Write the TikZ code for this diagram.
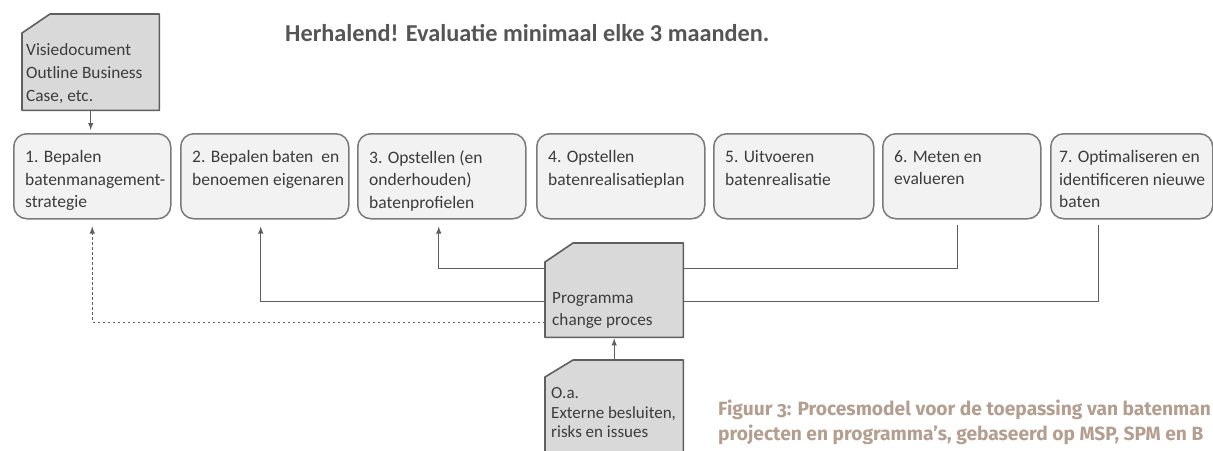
\documentclass[tikz,border=0pt]{standalone}
\usepackage{fontspec}
\setmainfont{Carlito}
\newfontfamily\capfont[Numbers=OldStyle]{Fira Sans}
\usepackage{xcolor}
\usetikzlibrary{arrows}

\definecolor{boxfill}{HTML}{F2F2F2}
\definecolor{boxline}{HTML}{7A7A7A}
\definecolor{docfill}{HTML}{D9D9D9}
\definecolor{docline}{HTML}{5F5F5F}
\definecolor{txtgray}{HTML}{3C3C3C}
\definecolor{titlegray}{HTML}{555555}
\definecolor{capbrown}{RGB}{180,158,143}

\begin{document}
\begin{tikzpicture}[x=1pt,y=-1pt,
  stepbox/.style={draw=boxline,fill=boxfill,line width=1.5pt,rounded corners=13pt,
    anchor=north west,inner sep=0pt,minimum height=85pt,minimum width=#1},
  steptext/.style={anchor=north west,inner sep=0pt,align=left,text=txtgray,
    font=\fontsize{17.5}{22.6}\selectfont,execute at begin node=\strut},
  docbox/.style={anchor=north west,inner sep=0pt,minimum width=138pt,minimum height=#1},
  docshape/.style={draw=docline,fill=docfill,line width=1.6pt,line join=round},
  doctext/.style={anchor=north west,inner sep=0pt,align=left,text=txtgray,
    font=\fontsize{17.3}{23.3}\selectfont,execute at begin node=\strut},
  conn/.style={draw=docline,line width=1.4pt,>=latex},
  dashconn/.style={conn,dash pattern=on 2.5pt off 2.5pt}]

\useasboundingbox (0,0) rectangle (1213,450);
\clip (0,0) rectangle (1213,450);

\node[font=\fontsize{24.3}{29}\selectfont\bfseries,text=titlegray,anchor=base west,inner sep=0pt]
  (title) at (285,41) {Herhalend! Evaluatie minimaal elke 3 maanden.};

% documenten
\node[docbox=96pt,minimum width=137pt] (visie) at (22,14) {};
\filldraw[docshape] (visie.south west) -- ([yshift=-19pt]visie.north west)
  -- ([xshift=28pt]visie.north west) -- (visie.north east) -- (visie.south east) -- cycle;
\node[doctext] (visietxt) at ([xshift=4pt,yshift=-29pt]visie.north west)
  {Visiedocument\\Outline Business\\Case, etc.};

\node[docbox=94pt] (change) at (545,243) {};
\filldraw[docshape] (change.south west) -- ([yshift=-19pt]change.north west)
  -- ([xshift=28pt]change.north west) -- (change.north east) -- (change.south east) -- cycle;
\node[doctext,font=\fontsize{17.2}{22}\selectfont] (changetxt)
  at ([xshift=7pt,yshift=-49pt]change.north west) {Programma\\change proces};

\node[docbox=105pt] (oa) at (545,360) {};
\filldraw[docshape] (oa.south west) -- ([yshift=-17pt]oa.north west)
  -- ([xshift=28pt]oa.north west) -- (oa.north east) -- (oa.south east) -- cycle;
\node[doctext,font=\fontsize{17}{19.8}\selectfont] (oatxt)
  at ([xshift=6pt,yshift=-27pt]oa.north west) {O.a.\\Externe besluiten,\\risks en issues};

% stappen
\node[stepbox=157pt] (b1) at (13,133) {};
\node[stepbox=168pt] (b2) at (180,133) {};
\node[stepbox=168pt] (b3) at (357,133) {};
\node[stepbox=168pt] (b4) at (536,133) {};
\node[stepbox=160pt] (b5) at (713,133) {};
\node[stepbox=158pt] (b6) at (882,133) {};
\node[stepbox=162pt] (b7) at (1050,133) {};

\node[steptext] (t1) at ([xshift=12pt,yshift=-17.3pt]b1.north west) {1. Bepalen\\batenmanagement-\\strategie};
\node[steptext] (t2) at ([xshift=12pt,yshift=-17.3pt]b2.north west) {2. Bepalen baten\ \ en\\benoemen eigenaren};
\node[steptext] (t3) at ([xshift=12pt,yshift=-17.3pt]b3.north west) {3. Opstellen (en\\onderhouden)\\batenprofielen};
\node[steptext] (t4) at ([xshift=12pt,yshift=-17.3pt]b4.north west) {4. Opstellen\\batenrealisatieplan};
\node[steptext] (t5) at ([xshift=12pt,yshift=-17.3pt]b5.north west) {5. Uitvoeren\\batenrealisatie};
\node[steptext] (t6) at ([xshift=12pt,yshift=-17.3pt]b6.north west) {6. Meten en\\evalueren};
\node[steptext] (t7) at ([xshift=9pt,yshift=-17.3pt]b7.north west) {7. Optimaliseren en\\identificeren nieuwe\\baten};

% verbindingen
\draw[conn,->,shorten >=3pt] (visie.south) -- (visie.south |- b1.north);
\draw[conn,->,shorten >=1pt] (oa) -- (change);

\draw[conn,->] ([yshift=22pt]change.west) -| ([xshift=-3pt,yshift=-7pt]b3.south);
\draw[conn,->] ([yshift=-11pt]change.west) -| ([xshift=-4pt,yshift=-7pt]b2.south);
\draw[dashconn,->] ([yshift=-32pt]change.west) -| ([yshift=-7pt]b1.south);
\draw[conn] ([yshift=22pt]change.east) -| ([xshift=-4pt,yshift=-5pt]b6.south);
\draw[conn] ([yshift=-11pt]change.east) -| ([xshift=-33pt,yshift=-5pt]b7.south);

\node[font=\capfont\bfseries\fontsize{19.2}{25}\selectfont,text=capbrown,anchor=base west,
  align=left,inner sep=0pt] (caption) at (718,440)
  {Figuur 3: Procesmodel voor de toepassing van batenman\\projecten en programma’s, gebaseerd op MSP, SPM en B};

\end{tikzpicture}
\end{document}
